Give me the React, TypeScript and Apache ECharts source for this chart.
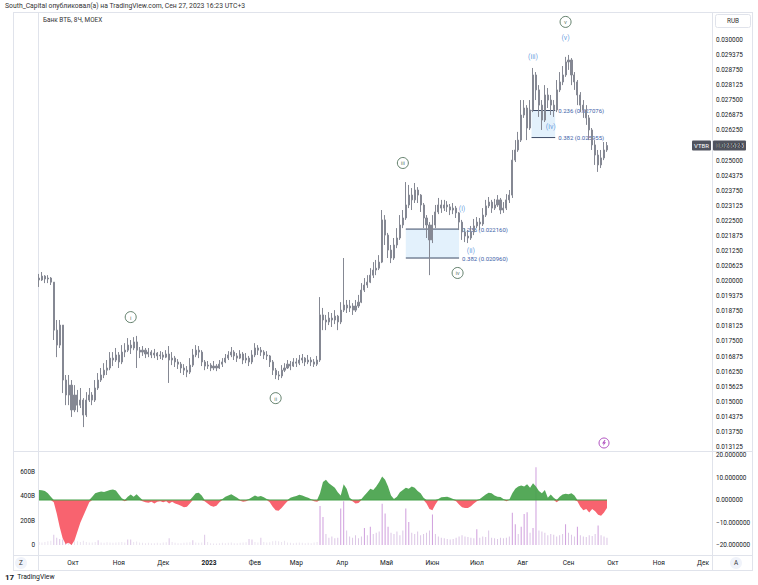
import React, { useEffect, useRef } from 'react';
import * as echarts from 'echarts';

const DAY = 86400000;
const FIRST_BAR = Date.UTC(2022, 8, 8);
const BAR_STEP_DAYS = 2;
const PRICE_UNIT = 1e-5;
const X_MIN = Date.UTC(2022, 8, 7, 8);
const X_MAX = Date.UTC(2023, 11, 7);
const FONT = 'Roboto, "Noto Sans", sans-serif';

// [open, close, low, high] in units of 0.00001 RUB, 2-day bars from 2022-09-08
const priceBars: number[][] = [
  [2013,2005,1976,2030],[2005,2021,2001,2038],[2021,2009,1992,2025],[2009,2013,1992,2025],[2013,1996,1984,2017],
  [1996,1797,1756,1996],[1797,1735,1685,1839],[1735,1818,1723,1839],[1818,1590,1536,1818],[1590,1528,1486,1611],
  [1528,1569,1486,1611],[1569,1466,1437,1590],[1466,1528,1457,1569],[1528,1486,1457,1549],[1486,1507,1474,1557],
  [1507,1445,1395,1515],[1445,1507,1437,1540],[1507,1528,1499,1557],[1528,1507,1486,1540],[1507,1557,1499,1590],
  [1557,1590,1549,1619],[1590,1611,1582,1640],[1611,1631,1598,1660],[1631,1640,1611,1673],[1640,1681,1631,1706],
  [1681,1673,1648,1706],[1673,1694,1665,1723],[1694,1665,1640,1706],[1665,1706,1656,1735],[1706,1714,1685,1743],
  [1714,1735,1706,1764],[1735,1723,1698,1756],[1723,1748,1714,1768],[1748,1714,1640,1773],[1714,1706,1681,1727],
  [1706,1714,1690,1731],[1714,1698,1681,1723],[1698,1706,1685,1723],[1706,1694,1681,1714],[1694,1702,1681,1719],
  [1702,1690,1673,1706],[1690,1694,1677,1710],[1694,1685,1673,1706],[1685,1698,1681,1714],[1698,1673,1578,1731],
  [1673,1681,1652,1706],[1681,1665,1644,1690],[1665,1656,1636,1677],[1656,1640,1619,1665],[1640,1631,1611,1656],
  [1631,1623,1602,1648],[1623,1652,1615,1681],[1652,1694,1644,1719],[1694,1714,1685,1735],[1714,1706,1681,1731],
  [1706,1665,1648,1714],[1665,1648,1631,1673],[1648,1652,1636,1669],[1652,1640,1627,1660],[1640,1648,1631,1669],
  [1648,1640,1627,1656],[1640,1656,1636,1673],[1656,1665,1644,1681],[1665,1681,1660,1698],[1681,1694,1673,1710],
  [1694,1706,1685,1727],[1706,1690,1673,1714],[1690,1681,1665,1702],[1681,1698,1677,1714],[1698,1673,1656,1706],
  [1673,1681,1660,1702],[1681,1665,1648,1690],[1665,1694,1656,1714],[1694,1723,1685,1743],[1723,1714,1694,1735],
  [1714,1706,1690,1727],[1706,1694,1677,1714],[1694,1690,1673,1710],[1690,1665,1644,1694],[1665,1631,1611,1673],
  [1631,1611,1594,1640],[1611,1607,1590,1627],[1607,1631,1598,1652],[1631,1640,1623,1660],[1640,1656,1636,1673],
  [1656,1648,1631,1669],[1648,1665,1644,1681],[1665,1660,1644,1681],[1660,1673,1652,1694],[1673,1681,1660,1698],
  [1681,1665,1648,1685],[1665,1673,1656,1694],[1673,1665,1648,1685],[1665,1656,1644,1677],[1656,1673,1648,1690],
  [1673,1860,1665,1934],[1860,1839,1797,1889],[1839,1831,1797,1860],[1831,1847,1818,1872],[1847,1839,1810,1868],
  [1839,1855,1822,1880],[1855,1831,1797,1860],[1831,1880,1822,1913],[1880,1901,1872,2096],[1901,1889,1868,1922],
  [1889,1897,1872,1922],[1897,1880,1860,1909],[1880,1897,1872,1922],[1897,1913,1889,1943],[1913,1963,1909,1992],
  [1963,1984,1955,2013],[1984,1996,1972,2025],[1996,2025,1992,2054],[2025,2046,2013,2079],[2046,2054,2025,2088],
  [2054,2079,2046,2108],[2079,2254,2075,2295],[2254,2191,2150,2274],[2191,2129,2096,2200],[2129,2096,2075,2150],
  [2096,2150,2088,2179],[2150,2179,2137,2220],[2179,2233,2171,2274],[2233,2262,2220,2295],[2262,2316,2254,2411],
  [2316,2357,2303,2399],[2357,2337,2295,2386],[2337,2378,2324,2407],[2378,2357,2324,2390],[2357,2316,2287,2361],
  [2316,2262,2220,2324],[2262,2233,2179,2274],[2233,2171,2025,2245],[2171,2233,2158,2274],[2233,2287,2220,2316],
  [2287,2316,2278,2345],[2316,2303,2283,2337],[2303,2316,2291,2337],[2316,2308,2287,2332],[2308,2295,2274,2320],
  [2295,2303,2278,2324],[2303,2283,2262,2312],[2283,2245,2212,2287],[2245,2204,2171,2254],[2204,2187,2162,2220],
  [2187,2179,2158,2212],[2179,2204,2171,2229],[2204,2229,2191,2258],[2229,2245,2220,2266],[2245,2237,2212,2262],
  [2237,2274,2229,2303],[2274,2312,2266,2337],[2312,2328,2303,2349],[2328,2303,2283,2337],[2303,2316,2295,2341],
  [2316,2337,2308,2357],[2337,2295,2278,2345],[2295,2303,2283,2328],[2303,2337,2295,2361],[2337,2357,2324,2378],
  [2357,2502,2345,2544],[2502,2544,2494,2585],[2544,2585,2536,2619],[2585,2689,2577,2751],[2689,2718,2677,2751],
  [2718,2635,2585,2730],[2635,2710,2627,2751],[2710,2855,2701,2884],[2855,2793,2751,2867],[2793,2730,2681,2813],
  [2730,2668,2627,2751],[2668,2772,2660,2813],[2772,2751,2718,2801],[2751,2730,2689,2772],[2730,2710,2681,2751],
  [2710,2793,2701,2834],[2793,2826,2784,2867],[2826,2855,2813,2892],[2855,2909,2847,2930],[2909,2917,2876,2938],
  [2917,2855,2813,2925],[2855,2826,2793,2867],[2826,2772,2730,2834],[2772,2730,2701,2784],[2730,2710,2677,2751],
  [2710,2677,2648,2730],[2677,2627,2585,2689],[2627,2565,2544,2635],[2565,2523,2482,2585],[2523,2482,2453,2544],
  [2482,2511,2469,2544],[2511,2544,2502,2577],[2544,2562.5,2536,2577],
];

// volume, billions, same 2-day bars
const volumeB: number[] = [
  25,20,25,30,35,85,60,50,45,40, 35,40,30,30,25,35,25,20,20,25,
  40,20,18,22,20,18,20,22,25,20, 45,45,25,28,20,18,15,18,15,15,
  18,15,20,22,55,25,18,15,15,18, 20,22,40,20,18,20,85,25,15,12,
  12,15,18,15,18,20,15,15,18,20, 22,50,45,25,20,60,25,20,22,30,
  35,30,25,35,20,18,15,18,20,18, 15,18,15,20,25,320,230,90,60,70,
  55,60,300,360,120,70,60,80,55,70, 140,80,150,90,100,110,340,260,150,100,
  90,110,80,120,300,190,100,90,110,80, 90,100,120,250,90,70,60,55,50,45,
  50,60,70,80,70,65,60,55,130,60, 70,65,120,60,55,50,60,55,60,70,
  265,170,90,150,255,270,100,140,640,120, 110,100,80,90,85,70,80,90,170,100,
  85,70,150,80,70,65,80,75,90,160, 80,70,60,
];

// oscillator, same 2-day bars
const oscillator: number[] = [
  4.5,4.3,4,3,1.5,-1,-6,-12,-17,-19.5, -19,-20,-18,-14,-10,-7,-4,-1,1.5,3,
  3.5,3.8,3.6,4,4.4,4.7,4.2,2.5,0.8,-0.5, 1.5,2.5,1.5,2.6,1.2,-0.5,-1,-1.2,-0.8,-1.5,
  -0.8,-0.5,-1,-0.5,-1.5,-0.8,-1.5,-2,-2.5,-3.2, -3,-1.5,1.5,3,3.2,2,-0.5,-1.5,-2.5,-3,
  -2.5,-1,0.5,1.5,2,2.6,1.8,1,-0.3,-0.8, -0.5,0.5,1.2,2,1.5,1.8,1.2,0.5,-1,-3,
  -4.5,-4.8,-3.5,-2,-0.5,1,1.5,1.8,2.3,2, 1.5,1,0.3,-0.5,-0.8,3,8,9,7.5,6.5,
  5.5,3.5,2,7,5,1,-0.5,-1.5,-1.3,0.5, 2,3.5,5,4.5,6,8,10.5,9,6,2,
  0.5,1.5,3.5,4.5,5.5,5,6,5.5,4,3, 1,-1.5,-4,-4.5,-2,0.5,1.2,1.3,1.5,1,
  0.5,-0.5,-2,-3.2,-3.6,-3.5,-2.8,-1.5,-0.5,0.5, 1.5,2.5,3.2,3,2,1.5,1.3,0.5,-0.5,0.2,
  3,5,6,6.5,6,7,5.5,7.5,6,4, 3,4.5,1,2.5,1,-1,1.5,2.5,2.8,2.6,
  3,2,-0.5,-3,-4.5,-4,-5.5,-4,-5,-6.5, -7,-5.5,-3.5,
];

const monthTickDates = ['2022-10-01','2022-11-01','2022-12-01','2023-01-01','2023-02-01','2023-03-01','2023-04-01','2023-05-01','2023-06-01','2023-07-01','2023-08-01','2023-09-01','2023-10-01','2023-11-01','2023-12-01'];
const monthTickLabels = ['Окт','Ноя','Дек','2023','Фев','Мар','Апр','Май','Июн','Июл','Авг','Сен','Окт','Ноя','Дек'];

const waveNames = ['i','ii','iii','iv','v'];
const waveDates = ['2022-11-09','2023-02-15','2023-05-12','2023-06-18','2023-08-30'];
const wavePrices = [0.01851,0.01515,0.0249,0.02034,0.03075];

const subWaveNames = ['(i)','(ii)','(iii)','(iv)','(v)'];
const subWaveDates = ['2023-06-21','2023-06-27','2023-08-08','2023-08-20','2023-08-30'];
const subWavePrices = [0.02299,0.02125,0.0293,0.02639,0.03008];

const fibStart = ['2023-05-14','2023-08-07'];
const fibEnd = ['2023-06-19','2023-08-23'];
const fibTopLevels = [0.02216,0.027076];
const fibBottomLevels = [0.02096,0.025955];
const fibTopLabels = ['0.236 (0.022160)','0.236 (0.027076)'];
const fibBottomLabels = ['0.382 (0.020960)','0.382 (0.025955)'];

const eventDate = '2023-09-25';
const eventPrice = 0.01329;

const PRICE_MIN = 0.0125;
const PRICE_MAX = 0.03125;
const PRICE_STEP = 0.000625;
const PRICE_LABEL_TOP = 0.03;

export default function App() {
  const ref = useRef<HTMLDivElement>(null);
  useEffect(() => {
    if (!ref.current) return;
    const chart = echarts.init(ref.current, undefined, { renderer: 'svg' });
    const times = priceBars.map((_, i) => FIRST_BAR + i * BAR_STEP_DAYS * DAY);
    const candles = priceBars.map((b, i) => [times[i], b[0] * PRICE_UNIT, b[1] * PRICE_UNIT, b[2] * PRICE_UNIT, b[3] * PRICE_UNIT]);
    const monthVals = monthTickDates.map((d) => Date.parse(d));
    const grey = '#858893';
    const axisText = { color: '#131722', fontSize: 6.4, fontFamily: FONT };

    const fibRows = fibStart.map((s, k) => [Date.parse(s), Date.parse(fibEnd[k]), fibTopLevels[k], fibBottomLevels[k], k]);

    const option: any = {
      animation: false,
      textStyle: { fontFamily: FONT },
      grid: [
        { left: 38, right: 46, top: 9.85, height: 452.2 },
        { left: 38, right: 46, top: 455, height: 90 },
      ],
      xAxis: [
        { type: 'value', gridIndex: 0, min: X_MIN, max: X_MAX, axisLine: { show: false }, axisTick: { show: false }, axisLabel: { show: false }, splitLine: { show: false } },
        { type: 'value', gridIndex: 1, min: X_MIN, max: X_MAX, axisLine: { show: false }, axisTick: { show: false }, axisLabel: { show: false }, splitLine: { show: false } },
      ],
      yAxis: [
        {
          type: 'value', gridIndex: 0, position: 'right', min: PRICE_MIN, max: PRICE_MAX, interval: PRICE_STEP,
          axisLine: { show: false }, axisTick: { show: false }, splitLine: { show: false },
          axisLabel: { ...axisText, margin: 4, showMinLabel: false, showMaxLabel: false, formatter: (v: number) => (v > PRICE_LABEL_TOP + 1e-7 ? '' : v.toFixed(6)) },
        },
        {
          type: 'value', gridIndex: 1, position: 'right', min: -20, max: 20, interval: 10,
          axisLine: { show: false }, axisTick: { show: false }, splitLine: { show: false },
          axisLabel: { ...axisText, margin: 4, formatter: (v: number) => (v < 0 ? '\u2212' + Math.abs(v).toFixed(6) : v.toFixed(6)) },
        },
        {
          type: 'value', gridIndex: 1, position: 'left', min: 0, max: 740, interval: 200,
          axisLine: { show: false }, axisTick: { show: false }, splitLine: { show: false },
          axisLabel: { ...axisText, margin: 3, showMaxLabel: false, formatter: (v: number) => (v === 0 ? '0' : v + 'B') },
        },
      ],
      series: [
        {
          type: 'custom', xAxisIndex: 0, yAxisIndex: 0, silent: true, z: 1,
          encode: { x: [0, 1], y: [2, 3] },
          data: fibRows,
          renderItem: (params: any, api: any) => {
            const k = api.value(4);
            const p1 = api.coord([api.value(0), api.value(2)]);
            const p2 = api.coord([api.value(1), api.value(3)]);
            const lineStyle = { stroke: '#3d4b66', lineWidth: 1 };
            const txt = { fontSize: 6, fill: '#3d62a8', fontFamily: FONT, verticalAlign: 'middle' };
            return {
              type: 'group',
              children: [
                { type: 'rect', shape: { x: p1[0], y: p1[1], width: p2[0] - p1[0], height: p2[1] - p1[1] }, style: { fill: 'rgba(41,150,230,0.13)' } },
                { type: 'line', shape: { x1: p1[0], y1: p1[1], x2: p2[0], y2: p1[1] }, style: lineStyle },
                { type: 'line', shape: { x1: p1[0], y1: p2[1], x2: p2[0], y2: p2[1] }, style: lineStyle },
                { type: 'text', style: { ...txt, x: p2[0] + 3, y: p1[1], text: fibTopLabels[k] } },
                { type: 'text', style: { ...txt, x: p2[0] + 3, y: p2[1], text: fibBottomLabels[k] } },
              ],
            };
          },
        },
        {
          type: 'candlestick', xAxisIndex: 0, yAxisIndex: 0, barWidth: 1.6, silent: true, z: 2,
          encode: { x: 0, y: [1, 2, 3, 4] },
          itemStyle: { color: grey, color0: grey, borderColor: grey, borderColor0: grey, borderWidth: 1 },
          data: candles,
        },
        {
          type: 'scatter', xAxisIndex: 0, yAxisIndex: 0, symbol: 'circle', symbolSize: 11, silent: true, z: 5,
          itemStyle: { color: '#ffffff', borderColor: '#3d6148', borderWidth: 1 },
          label: { show: true, position: 'inside', formatter: (p: any) => p.name, fontSize: 6, color: '#3d6148', fontFamily: FONT },
          data: waveNames.map((n, k) => ({ name: n, value: [Date.parse(waveDates[k]), wavePrices[k]] })),
        },
        {
          type: 'scatter', xAxisIndex: 0, yAxisIndex: 0, symbol: 'circle', symbolSize: 1, silent: true, z: 5,
          itemStyle: { color: 'rgba(0,0,0,0)' },
          label: { show: true, position: 'inside', formatter: (p: any) => p.name, fontSize: 7, color: '#3f86d6', fontFamily: FONT },
          data: subWaveNames.map((n, k) => ({ name: n, value: [Date.parse(subWaveDates[k]), subWavePrices[k]] })),
        },
        {
          type: 'scatter', xAxisIndex: 0, yAxisIndex: 0, symbol: 'circle', symbolSize: 10, silent: true, z: 5,
          itemStyle: { color: '#ffffff', borderColor: '#9c27b0', borderWidth: 1 },
          data: [[Date.parse(eventDate), eventPrice]],
        },
        {
          type: 'scatter', xAxisIndex: 0, yAxisIndex: 0, symbol: 'path://M6,0 L1,7 L4.5,7 L3,12 L9,4.5 L5.5,4.5 L8,0 Z', symbolSize: [4, 6], silent: true, z: 6,
          itemStyle: { color: '#9c27b0' },
          data: [[Date.parse(eventDate), eventPrice]],
        },
        {
          type: 'line', xAxisIndex: 1, yAxisIndex: 1, showSymbol: false, silent: true,
          lineStyle: { width: 0 }, itemStyle: { color: '#43a047' }, areaStyle: { color: '#43a047', opacity: 0.9 },
          data: oscillator.map((v, i) => [times[i], Math.max(v, 0)]),
        },
        {
          type: 'line', xAxisIndex: 1, yAxisIndex: 1, showSymbol: false, silent: true,
          lineStyle: { width: 0 }, itemStyle: { color: '#f7525f' }, areaStyle: { color: '#f7525f', opacity: 0.9 },
          data: oscillator.map((v, i) => [times[i], Math.min(v, 0)]),
        },
        {
          type: 'line', xAxisIndex: 1, yAxisIndex: 1, showSymbol: false, silent: true,
          lineStyle: { width: 1.2, color: '#43a047' }, itemStyle: { color: '#43a047' },
          data: [[times[0], 0], [times[times.length - 1], 0]],
        },
        {
          type: 'bar', xAxisIndex: 1, yAxisIndex: 2, barWidth: 1, silent: true,
          data: volumeB.map((v, i) => ({
            value: [times[i], v],
            itemStyle: { color: v >= 130 ? '#cf9edd' : v >= 40 ? '#dcc6e6' : '#ebe4f0' },
          })),
        },
      ],
    };
    chart.setOption(option);

    const lastClose = candles[candles.length - 1][2];
    const py = chart.convertToPixel({ xAxisIndex: 0, yAxisIndex: 0 } as any, [X_MAX, lastClose]) as number[];
    const line = (x1: number, y1: number, x2: number, y2: number) => ({
      type: 'line', silent: true, shape: { x1, y1, x2, y2 }, style: { stroke: '#e0e3eb', lineWidth: 1 },
    });
    const monthTexts = monthVals.map((m, k) => {
      const px = chart.convertToPixel({ xAxisIndex: 1, yAxisIndex: 1 } as any, [m, 0]) as number[];
      return {
        type: 'text', silent: true,
        style: {
          x: px[0], y: 563, text: monthTickLabels[k], fontSize: 6.6, fill: '#131722', fontFamily: FONT,
          fontWeight: monthTickLabels[k] === '2023' ? 'bold' : 'normal', align: 'center', verticalAlign: 'middle',
        },
      };
    });
    const graphics: any[] = [
      line(13, 12.5, 753, 12.5), line(13, 570.5, 753, 570.5), line(13.5, 12, 13.5, 571), line(752.5, 12, 752.5, 571),
      line(38.5, 12, 38.5, 571), line(712.5, 12, 712.5, 571), line(13, 451.5, 753, 451.5), line(13, 555.5, 753, 555.5),
      ...monthTexts,
      { type: 'text', silent: true, style: { x: 5, y: 6, text: 'South_Capital опубликовал(а) на TradingView.com, Сен 27, 2023 16:23 UTC+3', fontSize: 6.8, fill: '#333', fontFamily: FONT, verticalAlign: 'middle' } },
      { type: 'text', silent: true, style: { x: 43, y: 20, text: 'Банк ВТБ, 8Ч, MOEX', fontSize: 6.4, fill: '#333', fontFamily: FONT, verticalAlign: 'middle' } },
      { type: 'rect', silent: true, shape: { x: 715.5, y: 14.5, width: 35, height: 13, r: 2 }, style: { fill: '#fff', stroke: '#e0e3eb', lineWidth: 1 } },
      { type: 'text', silent: true, style: { x: 733, y: 21, text: 'RUB', fontSize: 6.4, fill: '#333', fontFamily: FONT, align: 'center', verticalAlign: 'middle' } },
      { type: 'circle', silent: true, shape: { cx: 21, cy: 563, r: 6 }, style: { fill: '#f0f3fa' } },
      { type: 'text', silent: true, style: { x: 21, y: 563, text: 'Z', fontSize: 6.4, fill: '#333', fontFamily: FONT, align: 'center', verticalAlign: 'middle' } },
      { type: 'circle', silent: true, shape: { cx: 736, cy: 563, r: 6 }, style: { fill: '#f0f3fa' } },
      { type: 'text', silent: true, style: { x: 736, y: 563, text: 'A', fontSize: 6.4, fill: '#333', fontFamily: FONT, align: 'center', verticalAlign: 'middle' } },
      {
        type: 'text', silent: true,
        style: {
          x: 5, y: 577, verticalAlign: 'middle', fontFamily: FONT,
          text: '{l|17} {t|TradingView}',
          rich: { l: { fontSize: 8, fontWeight: 'bold', fill: '#131722', fontFamily: FONT }, t: { fontSize: 6.8, fill: '#131722', fontFamily: FONT } },
        },
      },
      { type: 'rect', silent: true, shape: { x: 692, y: py[1] - 5, width: 19, height: 10, r: 1 }, style: { fill: '#50535e' } },
      { type: 'text', silent: true, style: { x: 701.5, y: py[1], text: 'VTBR', fontSize: 6, fill: '#fff', fontFamily: FONT, align: 'center', verticalAlign: 'middle' } },
      { type: 'rect', silent: true, shape: { x: 713, y: py[1] - 5, width: 33, height: 10, r: 1 }, style: { fill: '#50535e' } },
      { type: 'text', silent: true, style: { x: 716, y: py[1], text: lastClose.toFixed(6), fontSize: 6.6, fill: '#fff', fontFamily: FONT, verticalAlign: 'middle' } },
    ];
    chart.setOption({ graphic: graphics });
    return () => chart.dispose();
  }, []);
  return <div ref={ref} style={{ position: 'absolute', left: 0, top: 0, width: 758, height: 585, background: '#fff' }} />;
}
